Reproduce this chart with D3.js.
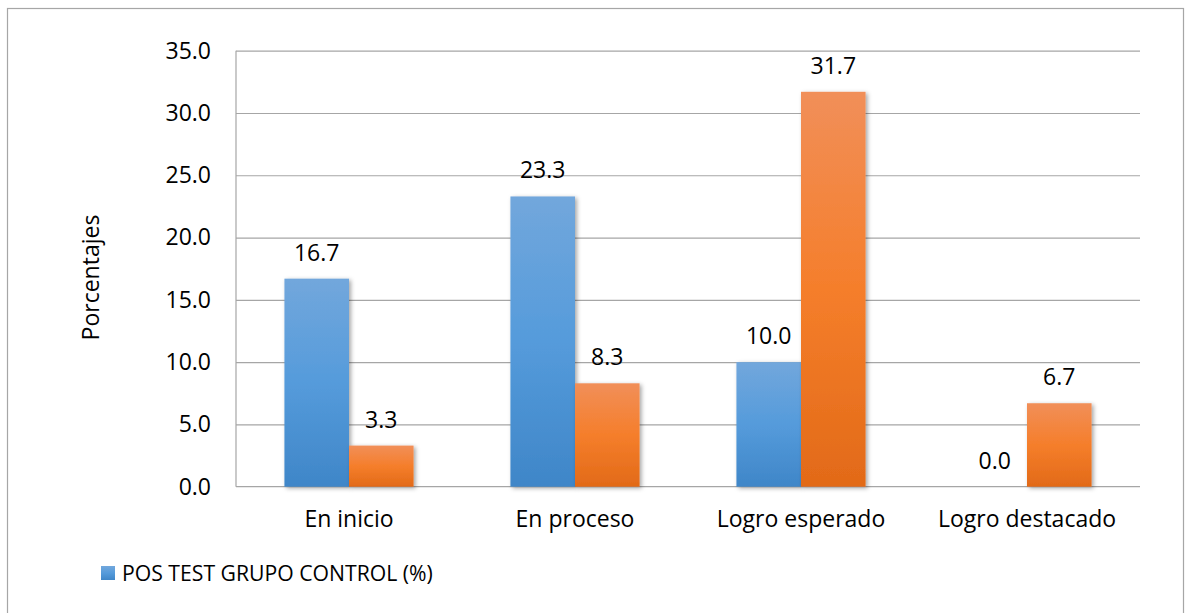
<!DOCTYPE html>
<html>
<head>
<meta charset="utf-8">
<script src="https://cdn.jsdelivr.net/npm/d3@7"></script>
<style>
  html, body { margin: 0; padding: 0; background: #ffffff; }
  svg { display: block; }
  text { font-family: "Open Sans", "Noto Sans", sans-serif; fill: #000; }
</style>
</head>
<body>
<svg id="chart" width="1188" height="613"></svg>
<script>
// Achievement levels on the horizontal axis
const categories = ["En inicio", "En proceso", "Logro esperado", "Logro destacado"];
// Percentages per level, one array per series
const controlValues = [16.7, 23.3, 10.0, 0.0];
const secondValues = [3.3, 8.3, 31.7, 6.7];
// Value axis ticks
const yTicks = [0, 5, 10, 15, 20, 25, 30, 35];
const legendLabels = ["POS TEST GRUPO CONTROL (%)"];
const yTitle = "Porcentajes";

const seriesKeys = ["control", "second"];
const rows = categories.map((c, i) => ({ category: c, control: controlValues[i], second: secondValues[i] }));

const svg = d3.select("#chart");
const fontSize = 23;

// Outer chart frame
svg.append("rect")
  .attr("x", 7.5).attr("y", 8.5)
  .attr("width", 1176).attr("height", 640)
  .attr("fill", "none").attr("stroke", "#a6a6a6").attr("stroke-width", 1.2);

const plot = { left: 236, right: 1140, top: 50.7, bottom: 486.7 };

const x = d3.scaleBand().domain(categories).range([plot.left, plot.right]).paddingInner(0).paddingOuter(0);
const xInner = d3.scaleBand().domain(seriesKeys).range([0, x.bandwidth()]).paddingInner(0).paddingOuter(0.75);
const y = d3.scaleLinear().domain([0, 35]).range([plot.bottom, plot.top]);

// Gradients and shadow for the bars
const defs = svg.append("defs");
const gradients = {
  control: ["#72a7dc", "#559bdb", "#3f86c8"],
  second: ["#f18f59", "#f57e2b", "#e26a18"]
};
Object.entries(gradients).forEach(([key, stops]) => {
  const g = defs.append("linearGradient").attr("id", "grad-" + key)
    .attr("x1", 0).attr("y1", 0).attr("x2", 0).attr("y2", 1);
  g.append("stop").attr("offset", "0%").attr("stop-color", stops[0]);
  g.append("stop").attr("offset", "50%").attr("stop-color", stops[1]);
  g.append("stop").attr("offset", "100%").attr("stop-color", stops[2]);
});
const shadow = defs.append("filter").attr("id", "barShadow")
  .attr("x", "-20%").attr("y", "-10%").attr("width", "150%").attr("height", "130%");
shadow.append("feDropShadow").attr("dx", 2).attr("dy", 1.5).attr("stdDeviation", 2.2)
  .attr("flood-color", "#000").attr("flood-opacity", 0.35);

// Horizontal gridlines (excluding the baseline)
const grid = d3.axisLeft(y).tickValues(yTicks.filter(t => t > 0)).tickSize(-(plot.right - plot.left)).tickFormat("");
svg.append("g").attr("transform", `translate(${plot.left},0)`).call(grid)
  .call(g => g.select(".domain").remove())
  .call(g => g.selectAll("line").attr("stroke", "#a6a6a6").attr("stroke-width", 1.2));

// Y tick labels
const yAxis = d3.axisLeft(y).tickValues(yTicks).tickSize(0).tickPadding(25).tickFormat(d3.format(".1f"));
svg.append("g").attr("transform", `translate(${plot.left},0)`).call(yAxis)
  .call(g => g.select(".domain").remove())
  .call(g => g.selectAll("text").attr("font-size", fontSize).attr("font-family", null).attr("fill", "#000"));

// Left axis line and baseline
svg.append("line").attr("x1", plot.left).attr("x2", plot.left).attr("y1", y(35)).attr("y2", y(0))
  .attr("stroke", "#a6a6a6").attr("stroke-width", 1.2);
svg.append("line").attr("x1", plot.left).attr("x2", plot.right).attr("y1", y(0)).attr("y2", y(0))
  .attr("stroke", "#a6a6a6").attr("stroke-width", 1.2);

// Bars
const groups = svg.append("g").selectAll("g").data(rows).join("g")
  .attr("transform", d => `translate(${x(d.category)},0)`);

groups.selectAll("rect")
  .data(d => seriesKeys.map(k => ({ key: k, value: d[k] })))
  .join("rect")
  .attr("x", d => xInner(d.key))
  .attr("y", d => y(d.value))
  .attr("width", xInner.bandwidth())
  .attr("height", d => y(0) - y(d.value))
  .attr("fill", d => `url(#grad-${d.key})`)
  .attr("filter", d => d.value > 0 ? "url(#barShadow)" : null);

// Value labels above bars
groups.selectAll("text.value")
  .data(d => seriesKeys.map(k => ({ key: k, value: d[k] })))
  .join("text")
  .attr("class", "value")
  .attr("x", d => xInner(d.key) + xInner.bandwidth() / 2)
  .attr("y", d => y(d.value) - 18)
  .attr("text-anchor", "middle")
  .attr("font-size", fontSize)
  .text(d => d3.format(".1f")(d.value));

// Category labels
const xAxis = d3.axisBottom(x).tickSize(0).tickPadding(24);
svg.append("g").attr("transform", `translate(0,${plot.bottom})`).call(xAxis)
  .call(g => g.select(".domain").remove())
  .call(g => g.selectAll("text").attr("font-size", fontSize).attr("font-family", null).attr("fill", "#000"));

// Y-axis title
svg.append("text")
  .attr("transform", `translate(99,277.5) rotate(-90)`)
  .attr("text-anchor", "middle")
  .attr("font-size", fontSize)
  .text(yTitle);

// Legend
const legend = svg.append("g").attr("transform", "translate(101,566)");
legend.append("rect").attr("width", 14).attr("height", 14).attr("fill", "url(#grad-control)");
legend.append("text").attr("x", 21).attr("y", 14.5).attr("font-size", 21.2).text(legendLabels[0]);
</script>
</body>
</html>
